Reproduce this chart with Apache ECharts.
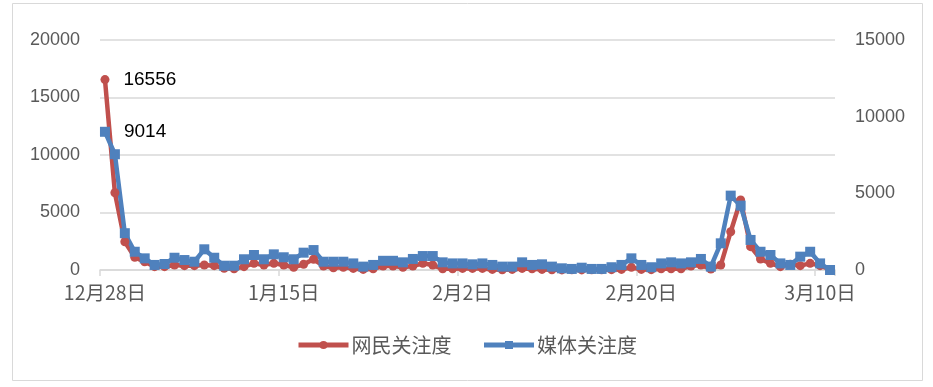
<!DOCTYPE html>
<html>
<head>
<meta charset="utf-8">
<script src="https://cdn.jsdelivr.net/npm/echarts@6/dist/echarts.min.js"></script>
<style>
html,body{margin:0;padding:0;background:#fff;}
#c{width:933px;height:387px;}
</style>
</head>
<body>
<div id="c"></div>
<script>
var categories = [
 '12月28日','12月29日','12月30日','12月31日',
 '1月1日','1月2日','1月3日','1月4日','1月5日','1月6日','1月7日','1月8日','1月9日','1月10日',
 '1月11日','1月12日','1月13日','1月14日','1月15日','1月16日','1月17日','1月18日','1月19日','1月20日',
 '1月21日','1月22日','1月23日','1月24日','1月25日','1月26日','1月27日','1月28日','1月29日','1月30日','1月31日',
 '2月1日','2月2日','2月3日','2月4日','2月5日','2月6日','2月7日','2月8日','2月9日','2月10日',
 '2月11日','2月12日','2月13日','2月14日','2月15日','2月16日','2月17日','2月18日','2月19日','2月20日',
 '2月21日','2月22日','2月23日','2月24日','2月25日','2月26日','2月27日','2月28日',
 '3月1日','3月2日','3月3日','3月4日','3月5日','3月6日','3月7日','3月8日','3月9日','3月10日','3月11日'
];
var netizenAttention = [
 16556,6720,2460,1100,720,290,290,430,380,380,
 430,380,150,100,290,580,430,580,430,230,
 490,930,350,200,230,140,50,100,350,350,
 230,350,580,430,100,100,140,140,140,50,
 20,50,140,100,50,20,10,20,10,20,
 20,30,50,230,50,30,100,100,100,350,
 430,90,430,3330,6090,2030,960,580,290,490,
 380,580,380,50
];
var mediaAttention = [
 9014,7550,2400,1190,760,330,390,800,650,540,
 1350,800,280,280,700,980,700,1020,830,700,
 1130,1300,540,540,540,430,220,330,600,600,
 500,720,910,910,500,430,430,370,430,330,
 220,220,500,330,370,220,110,70,150,70,
 70,180,330,760,330,180,430,500,430,500,
 720,220,1740,4850,4200,1960,1190,980,430,330,
 870,1190,430,0
];
var seriesNames = ['网民关注度','媒体关注度'];
var leftTicks = {min:0,max:20000,interval:5000};
var rightTicks = {min:0,max:15000,interval:5000};

function withFirstLabel(arr){
  return arr.map(function(v,i){
    if(i===0){
      return {value:v,label:{show:true,position:'right',distance:14,color:'#000',fontSize:19,fontFamily:'Liberation Sans, Arial, sans-serif',formatter:'{c}'}};
    }
    return v;
  });
}
function plain(v){ return String(v); }

var chart = echarts.init(document.getElementById('c'),null,{renderer:'canvas'});
var labelColor = '#595959';
var numFont = 'Liberation Sans, Arial, sans-serif';
var cjkFont = '"Noto Sans CJK SC", sans-serif';
chart.setOption({
  animation:false,
  backgroundColor:'#fff',
  graphic:[{type:'rect',shape:{x:12.5,y:3.5,width:910,height:377},style:{fill:'none',stroke:'#d9d9d9',lineWidth:1},silent:true,z:-1}],
  grid:{left:100,right:98,top:40,bottom:117},
  legend:{
    data:seriesNames,bottom:27,left:'center',
    itemWidth:50,itemHeight:10,itemGap:30,
    lineStyle:{width:5},
    textStyle:{color:labelColor,fontSize:20,fontFamily:cjkFont,padding:[0,0,0,-2]}
  },
  xAxis:{
    type:'category',data:categories,boundaryGap:true,
    axisLine:{lineStyle:{color:'#d9d9d9',width:1.5}},
    axisTick:{show:true,interval:17,length:6,lineStyle:{color:'#d9d9d9',width:1.5}},
    axisLabel:{interval:17,color:labelColor,fontSize:19.5,fontFamily:cjkFont,margin:13}
  },
  yAxis:[
    {type:'value',min:leftTicks.min,max:leftTicks.max,interval:leftTicks.interval,
     axisLine:{show:false},axisTick:{show:false},
     splitLine:{lineStyle:{color:'#d9d9d9',width:1.5}},
     axisLabel:{color:labelColor,fontSize:18,fontFamily:numFont,margin:20,formatter:plain}},
    {type:'value',min:rightTicks.min,max:rightTicks.max,interval:rightTicks.interval,
     axisLine:{show:false},axisTick:{show:false},splitLine:{show:false},
     axisLabel:{color:labelColor,fontSize:18,fontFamily:numFont,margin:20,formatter:plain}}
  ],
  series:[
    {name:seriesNames[0],type:'line',yAxisIndex:0,data:withFirstLabel(netizenAttention),
     symbol:'circle',symbolSize:9,showAllSymbol:true,
     lineStyle:{color:'#C0504D',width:4.5},itemStyle:{color:'#C0504D'}},
    {name:seriesNames[1],type:'line',yAxisIndex:1,data:withFirstLabel(mediaAttention),
     symbol:'rect',symbolSize:10,showAllSymbol:true,
     lineStyle:{color:'#4F81BD',width:4.5},itemStyle:{color:'#4F81BD'}}
  ]
});
</script>
</body>
</html>
